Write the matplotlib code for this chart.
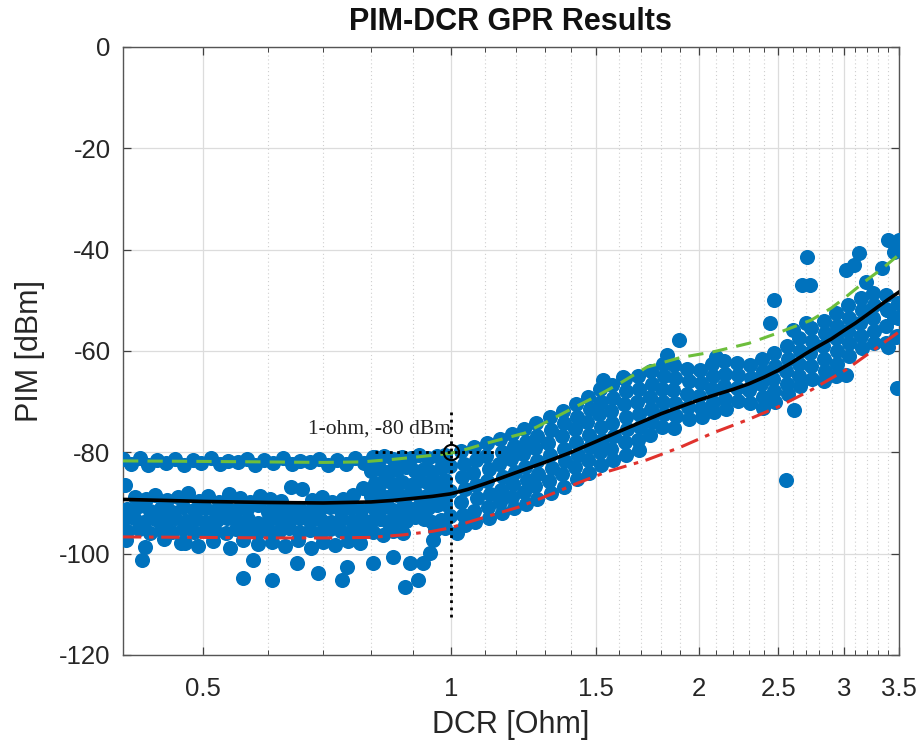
import matplotlib
matplotlib.use("Agg")
import matplotlib.pyplot as plt
from matplotlib.ticker import FixedLocator, NullFormatter, FixedFormatter
import numpy as np

plt.rcParams['font.family'] = ['Liberation Sans', 'DejaVu Sans']

# ---------------- scatter data (DCR [Ohm], PIM [dBm]) ----------------
# flat region, upper row
dcr_flat_top = [0.400, 0.409, 0.419, 0.429, 0.440, 0.451, 0.462, 0.474, 0.486, 0.498, 0.511, 0.524, 0.537,
                0.551, 0.565, 0.579, 0.594, 0.609, 0.625, 0.641, 0.657, 0.674, 0.691, 0.709, 0.727, 0.746,
                0.765, 0.785, 0.805]
pim_flat_top = [-81.4, -82.3, -81.1, -82.5, -81.6, -82.2, -81.3, -82.6, -81.5, -82.1, -81.2, -82.4, -81.7,
                -82.0, -81.3, -82.5, -81.6, -82.2, -81.1, -82.4, -81.8, -82.0, -81.4, -82.6, -81.5, -82.3,
                -81.2, -82.1, -81.0]

# flat region, main mass
dcr_flat_r1 = [0.402, 0.414, 0.426, 0.438, 0.452, 0.466, 0.480, 0.494, 0.508, 0.523, 0.538, 0.554, 0.570,
               0.587, 0.604, 0.622, 0.640, 0.659, 0.678, 0.698, 0.718, 0.739, 0.761, 0.783]
pim_flat_r1 = [-86.5, -88.8, -89.2, -88.4, -89.5, -88.9, -88.1, -89.6, -88.7, -89.9, -88.3, -89.1, -89.8,
               -88.6, -89.3, -89.7, -86.9, -87.2, -89.4, -88.8, -89.9, -89.2, -88.5, -87.0]
dcr_flat_r2 = [0.405, 0.418, 0.431, 0.445, 0.459, 0.473, 0.488, 0.503, 0.518, 0.533, 0.549, 0.566, 0.583,
               0.600, 0.618, 0.636, 0.655, 0.674, 0.694, 0.714, 0.735, 0.757, 0.779, 0.801]
pim_flat_r2 = [-91.2, -90.6, -91.5, -90.9, -91.8, -90.7, -91.3, -91.0, -91.6, -90.8, -91.4, -91.1, -90.5,
               -91.7, -91.0, -91.3, -90.9, -91.6, -91.2, -90.8, -91.5, -91.0, -91.4, -90.6]
dcr_flat_r3 = [0.400, 0.412, 0.424, 0.437, 0.450, 0.463, 0.477, 0.491, 0.505, 0.520, 0.535, 0.551, 0.567,
               0.584, 0.601, 0.619, 0.637, 0.656, 0.675, 0.695, 0.715, 0.736, 0.758, 0.780]
pim_flat_r3 = [-93.4, -93.0, -93.7, -93.2, -93.5, -92.9, -93.6, -93.1, -93.8, -93.3, -93.0, -93.6, -93.2,
               -93.9, -93.4, -93.1, -93.7, -93.0, -93.5, -93.3, -93.8, -93.1, -93.6, -93.2]
dcr_flat_r4 = [0.405, 0.418, 0.431, 0.445, 0.459, 0.473, 0.488, 0.503, 0.518, 0.533, 0.549, 0.566, 0.583,
               0.600, 0.618, 0.636, 0.655, 0.674, 0.694, 0.714, 0.735, 0.757, 0.779, 0.801]
pim_flat_r4 = [-95.6, -95.2, -95.9, -95.4, -95.7, -95.1, -95.8, -95.3, -95.6, -95.9, -95.2, -95.5, -95.8,
               -95.3, -95.6, -95.0, -95.7, -95.4, -95.9, -95.2, -95.6, -95.8, -95.3, -95.5]
dcr_flat_r5 = [0.403, 0.425, 0.448, 0.470, 0.493, 0.515, 0.540, 0.560, 0.583, 0.606, 0.630, 0.652, 0.676,
               0.700, 0.724, 0.750, 0.775]
pim_flat_r5 = [-97.4, -98.6, -97.2, -97.9, -98.4, -97.6, -98.8, -97.3, -98.1, -97.7, -98.5, -97.4, -98.9,
               -97.8, -98.2, -97.5, -98.0]

# transition region 0.8 - 1.0
dcr_knee = [0.810, 0.830, 0.851, 0.872, 0.894, 0.916, 0.939, 0.962, 0.985,
            0.800, 0.820, 0.840, 0.861, 0.883, 0.905, 0.927, 0.950, 0.974, 0.997,
            0.810, 0.830, 0.851, 0.872, 0.894, 0.916, 0.939, 0.962, 0.985,
            0.800, 0.820, 0.840, 0.861, 0.883, 0.905, 0.927, 0.950, 0.974, 0.997,
            0.810, 0.830, 0.851, 0.872, 0.894, 0.916, 0.939, 0.962, 0.985,
            0.800, 0.820, 0.840, 0.861, 0.883, 0.905, 0.927, 0.950, 0.974, 0.997,
            0.805, 0.828, 0.852, 0.876, 0.958, 0.985]
pim_knee = [-81.0, -80.7, -81.3, -80.9, -81.2, -80.6, -81.1, -80.8, -80.5,
            -83.6, -83.2, -83.9, -83.4, -83.0, -83.7, -83.3, -83.8, -83.1, -82.8,
            -86.1, -85.7, -86.3, -85.9, -86.4, -85.6, -86.0, -85.8, -85.4,
            -88.6, -88.2, -88.9, -88.4, -88.7, -88.1, -88.8, -88.3, -88.0, -87.6,
            -91.1, -90.7, -91.4, -90.9, -91.2, -90.6, -91.0, -90.5, -90.2,
            -93.5, -93.1, -93.8, -93.3, -93.6, -92.8, -93.2, -93.7, -93.4, -92.6,
            -95.8, -96.3, -95.5, -96.0, -95.4, -94.9]

# rising region 1.0 - 3.5
dcr_rise = [1.030, 1.038, 1.033, 1.041, 1.029, 1.036, 1.040,
            1.068, 1.074, 1.065, 1.072, 1.077, 1.066, 1.071,
            1.108, 1.104, 1.113, 1.106, 1.115, 1.109, 1.112,
            1.148, 1.153, 1.145, 1.156, 1.150, 1.147, 1.154,
            1.188, 1.193, 1.185, 1.196, 1.191, 1.187, 1.194,
            1.228, 1.234, 1.225, 1.231, 1.237, 1.226, 1.233,
            1.268, 1.274, 1.265, 1.272, 1.277, 1.266, 1.271,
            1.318, 1.324, 1.314, 1.321, 1.327, 1.316, 1.322,
            1.368, 1.374, 1.364, 1.371, 1.377, 1.366, 1.372,
            1.418, 1.424, 1.414, 1.421, 1.427, 1.416, 1.422,
            1.468, 1.474, 1.464, 1.471, 1.477, 1.466, 1.472,
            1.518, 1.524, 1.514, 1.521, 1.527, 1.516, 1.522,
            1.568, 1.574, 1.564, 1.571, 1.577, 1.566, 1.572,
            1.628, 1.634, 1.624, 1.631, 1.637, 1.626, 1.632,
            1.688, 1.694, 1.684, 1.691, 1.697, 1.686, 1.692,
            1.748, 1.754, 1.744, 1.751, 1.757, 1.746,
            1.808, 1.814, 1.804, 1.811, 1.817, 1.806,
            1.868, 1.874, 1.864, 1.871, 1.877, 1.866,
            1.938, 1.944, 1.934, 1.941, 1.947,
            2.008, 2.014, 2.004, 2.011, 2.017,
            2.078, 2.084, 2.074, 2.081, 2.087,
            2.148, 2.154, 2.144, 2.151, 2.157,
            2.228, 2.234, 2.224, 2.231,
            2.308, 2.314, 2.304, 2.311,
            2.388, 2.394, 2.384, 2.391, 2.397,
            2.468, 2.474, 2.464, 2.471, 2.477,
            2.558, 2.564, 2.554, 2.561, 2.567,
            2.648, 2.654, 2.644, 2.651, 2.657,
            2.738, 2.744, 2.734, 2.741, 2.747,
            2.838, 2.844, 2.834, 2.841, 2.847, 2.836,
            2.938, 2.944, 2.934, 2.941, 2.947, 2.936,
            3.038, 3.044, 3.034, 3.041, 3.047,
            3.148, 3.154, 3.144, 3.151, 3.157,
            3.258, 3.264, 3.254, 3.261, 3.267,
            3.378, 3.384, 3.374, 3.381,
            3.488, 3.494, 3.484]
pim_rise = [-79.8, -82.3, -84.8, -87.3, -89.8, -92.3, -94.4,
            -79.0, -81.5, -84.0, -86.5, -89.0, -91.5, -93.8,
            -78.2, -80.7, -83.2, -85.7, -88.2, -90.7, -92.9,
            -77.4, -79.9, -82.4, -84.9, -87.4, -89.9, -92.0,
            -76.3, -78.8, -81.3, -83.8, -86.3, -88.8, -91.0,
            -75.4, -77.9, -80.4, -82.9, -85.4, -87.9, -90.2,
            -74.2, -76.7, -79.2, -81.7, -84.2, -86.7, -89.2,
            -73.1, -75.6, -78.1, -80.6, -83.1, -85.6, -88.0,
            -71.8, -74.3, -76.8, -79.3, -81.8, -84.3, -86.8,
            -70.5, -73.0, -75.5, -78.0, -80.5, -83.0, -85.3,
            -69.0, -71.5, -74.0, -76.5, -79.0, -81.5, -84.0,
            -67.5, -70.0, -72.5, -75.0, -77.5, -80.0, -82.5,
            -66.8, -69.3, -71.8, -74.3, -76.8, -79.3, -81.6,
            -65.5, -68.0, -70.5, -73.0, -75.5, -78.0, -80.5,
            -65.0, -67.5, -70.0, -72.5, -75.0, -77.5, -79.5,
            -64.0, -66.5, -69.0, -71.5, -74.0, -76.5,
            -62.5, -65.0, -67.5, -70.0, -72.5, -75.0,
            -62.8, -65.3, -67.8, -70.3, -72.8, -75.2,
            -63.5, -66.0, -68.5, -71.0, -73.5,
            -63.8, -66.3, -68.8, -71.3, -73.0,
            -62.5, -65.0, -67.5, -70.0, -72.0,
            -62.0, -64.5, -67.0, -69.5, -71.5,
            -62.3, -64.8, -67.3, -69.8,
            -62.8, -65.3, -67.8, -70.3,
            -61.5, -64.0, -66.5, -69.0, -71.2,
            -60.5, -63.0, -65.5, -68.0, -70.0,
            -59.0, -61.5, -64.0, -66.5, -68.5,
            -57.5, -60.0, -62.5, -65.0, -67.0,
            -55.5, -58.0, -60.5, -63.0, -65.5,
            -54.0, -56.5, -59.0, -61.5, -64.0, -66.0,
            -52.5, -55.0, -57.5, -60.0, -62.5, -65.0,
            -51.0, -53.5, -56.0, -58.5, -61.0,
            -49.5, -52.0, -54.5, -57.0, -59.5,
            -48.5, -51.0, -53.5, -56.0, -58.5,
            -49.0, -52.0, -55.0, -58.5,
            -50.5, -53.5, -57.0]

# isolated points
dcr_out = [0.422, 0.476, 0.575, 0.560, 0.607, 0.650, 0.690, 0.748, 0.738, 0.804, 0.851, 0.879, 0.892,
           0.912, 0.925, 0.943, 0.951, 1.017,
           1.53, 1.62, 1.83, 1.895, 2.10, 2.44, 2.47, 2.55, 2.60, 2.61, 2.67, 2.70, 2.71, 2.73,
           3.02, 3.02, 3.09, 3.13, 3.19, 3.34, 3.40, 3.40, 3.40, 3.45, 3.45, 3.47, 3.48, 3.50]
pim_out = [-101.2, -97.9, -101.3, -104.8, -105.2, -101.8, -103.8, -102.6, -105.2, -101.8, -100.6, -106.6,
           -101.8, -105.2, -101.8, -99.9, -97.3, -95.9,
           -65.7, -65.1, -60.8, -57.8, -61.2, -54.5, -49.9, -85.5, -55.9, -71.6, -47.0, -54.5, -41.4,
           -47.0, -44.0, -64.7, -43.0, -40.7, -46.4, -43.6, -38.1, -51.9, -59.2, -40.5, -53.3, -57.2,
           -67.3, -38.1]

# ---------------- GPR curves ----------------
dcr_mean = [0.40, 0.45, 0.50, 0.60, 0.70, 0.80, 0.85, 0.90, 0.95, 1.00, 1.05, 1.10, 1.15, 1.20, 1.30, 1.40,
            1.50, 1.60, 1.70, 1.80, 1.90, 2.00, 2.10, 2.20, 2.30, 2.40, 2.50, 2.60, 2.70, 2.80, 2.90, 3.00,
            3.10, 3.20, 3.30, 3.40, 3.50]
pim_mean = [-89.3, -89.5, -89.7, -89.9, -90.0, -89.8, -89.5, -89.1, -88.7, -88.2, -87.3, -86.2, -85.1, -84.0,
            -82.0, -80.0, -77.9, -75.9, -74.1, -72.4, -71.0, -69.7, -68.6, -67.6, -66.5, -65.2, -63.8, -62.2,
            -60.5, -59.0, -57.6, -56.0, -54.5, -52.9, -51.3, -49.8, -48.4]

dcr_upper = [0.40, 0.50, 0.60, 0.70, 0.78, 0.85, 0.90, 0.95, 1.00, 1.05, 1.10, 1.16, 1.23, 1.30, 1.43, 1.50,
             1.60, 1.73, 1.90, 2.08, 2.30, 2.50, 2.74, 2.90, 3.02, 3.20, 3.35, 3.50]
pim_upper = [-81.7, -81.8, -81.9, -82.0, -81.9, -81.4, -81.0, -80.6, -80.2, -79.3, -78.3, -77.3, -76.2, -74.2,
             -70.7, -69.0, -66.5, -63.2, -61.3, -60.2, -58.5, -56.4, -53.9, -51.5, -49.3, -46.0, -43.6, -41.0]

dcr_lower = [0.40, 0.50, 0.60, 0.70, 0.80, 0.875, 0.95, 1.00, 1.05, 1.10, 1.21, 1.30, 1.43, 1.55, 1.73, 1.90,
             2.08, 2.30, 2.50, 2.74, 3.02, 3.25, 3.49]
pim_lower = [-96.7, -96.8, -96.9, -96.9, -96.8, -96.3, -95.6, -94.9, -93.8, -92.8, -90.8, -88.8, -86.0, -83.8,
             -81.5, -79.0, -76.2, -73.5, -71.0, -67.7, -63.7, -60.0, -56.4]

# annotation
anno_dcr = 1.0
anno_pim = -80
anno_text = "1-ohm, -80 dBm"
hline_dcr = [0.81, 1.16]
vline_pim = [-72, -113]

xticks_major = [0.5, 1, 1.5, 2, 2.5, 3, 3.5]
xtick_labels = ["0.5", "1", "1.5", "2", "2.5", "3", "3.5"]
xticks_minor = [0.4, 0.6, 0.7, 0.8, 0.9, 1.1, 1.2, 1.3, 1.4, 1.6, 1.7, 1.8, 1.9, 2.1, 2.2, 2.3, 2.4,
                2.6, 2.7, 2.8, 2.9, 3.1, 3.2, 3.3, 3.4]
yticks = [0, -20, -40, -60, -80, -100, -120]

# ---------------- plot ----------------
fig = plt.figure(figsize=(9.2, 7.42), dpi=100)
ax = fig.add_axes([0.1337, 0.1173, 0.977 - 0.1337, 0.9367 - 0.1173])

blue = '#0072BD'
sc_kw = dict(s=118, c=blue, linewidths=0, zorder=3)
for xs, ys in [(dcr_flat_top, pim_flat_top), (dcr_flat_r1, pim_flat_r1), (dcr_flat_r2, pim_flat_r2),
               (dcr_flat_r3, pim_flat_r3), (dcr_flat_r4, pim_flat_r4), (dcr_flat_r5, pim_flat_r5),
               (dcr_knee, pim_knee), (dcr_rise, pim_rise), (dcr_out, pim_out)]:
    ax.scatter(xs, ys, **sc_kw)

ax.plot(dcr_upper, pim_upper, color='#6DBE3C', lw=2.2, ls=(0, (5, 3)), zorder=4)
ax.plot(dcr_lower, pim_lower, color='#E0322D', lw=2.2, ls=(0, (6, 2.5, 1.5, 2.5)), zorder=4)
ax.plot(dcr_mean, pim_mean, color='black', lw=2.6, zorder=5)

# annotation
ax.plot(hline_dcr, [anno_pim, anno_pim], color='black', lw=2, ls=(0, (1, 1.6)), zorder=6)
ax.plot([anno_dcr, anno_dcr], vline_pim, color='black', lw=2, ls=(0, (1, 1.6)), zorder=6)
ax.plot([anno_dcr], [anno_pim], marker='o', ms=11, mfc='none', mec='black', mew=1.5, zorder=7)
ax.text(anno_dcr, -77.3, anno_text, family=['Liberation Serif', 'DejaVu Serif'], fontsize=15.5,
        ha='right', va='bottom', color='#222222', zorder=8)

ax.set_xscale('log')
ax.set_xlim(0.4, 3.5)
ax.set_ylim(-120, 0)
ax.xaxis.set_major_locator(FixedLocator(xticks_major))
ax.xaxis.set_major_formatter(FixedFormatter(xtick_labels))
ax.xaxis.set_minor_locator(FixedLocator(xticks_minor))
ax.xaxis.set_minor_formatter(NullFormatter())
ax.set_yticks(yticks)
ax.set_yticklabels([str(v) for v in yticks])

ax.grid(True, which='major', color='#dcdcdc', lw=0.9, ls='-', zorder=0)
ax.grid(True, which='minor', axis='x', color='#cfcfcf', lw=0.8, ls=(0, (1, 2.5)), zorder=0)
ax.set_axisbelow(True)

ax.tick_params(which='both', direction='in', top=True, right=True, colors='#404040', labelcolor='#262626')
ax.tick_params(which='major', length=6, width=0.9, labelsize=18.5)
ax.tick_params(axis='x', which='major', pad=16)
ax.tick_params(axis='y', which='major', pad=9)
ax.tick_params(which='minor', length=3.5, width=0.7)
for sp in ax.spines.values():
    sp.set_color('#555555')
    sp.set_linewidth(1.0)

ax.set_xlabel('DCR [Ohm]', fontsize=22, color='#262626', labelpad=6)
ax.set_ylabel('PIM [dBm]', fontsize=22, color='#262626', labelpad=10)
fig.text(0.5 * (0.1337 + 0.977), 1 - 22.5 / 742, 'PIM-DCR GPR Results', fontsize=22, fontweight='bold',
         color='#111111', ha='center', va='center')

fig.savefig('out.png', dpi=100)
